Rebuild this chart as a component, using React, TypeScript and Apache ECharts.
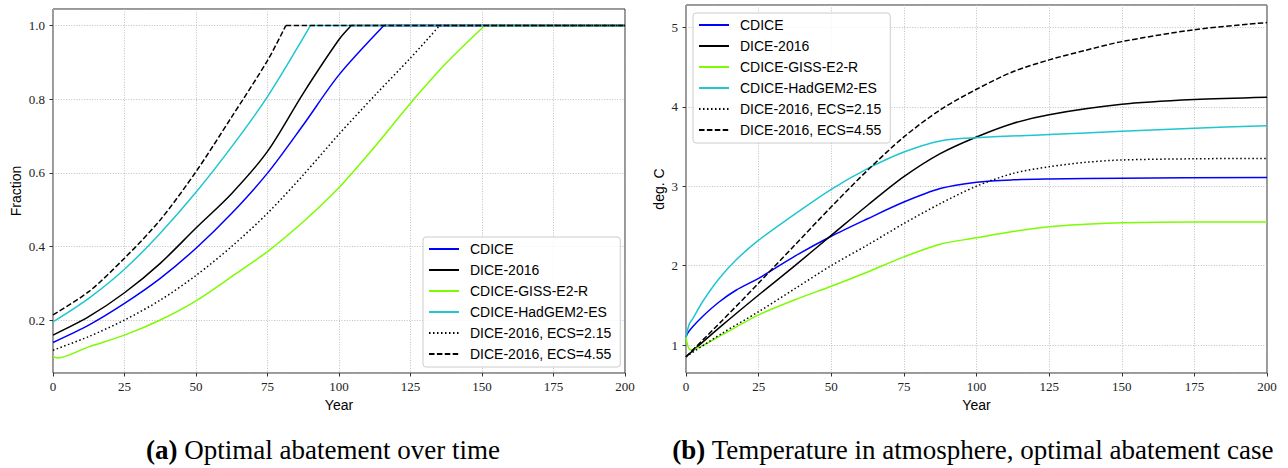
import React, { useEffect, useRef } from "react";
import * as echarts from "echarts";

// ---------- names & ticks ----------
const seriesNames = [
  "CDICE",
  "DICE-2016",
  "CDICE-GISS-E2-R",
  "CDICE-HadGEM2-ES",
  "DICE-2016, ECS=2.15",
  "DICE-2016, ECS=4.55",
];
const yearTicks = [0, 25, 50, 75, 100, 125, 150, 175, 200];

// ---------- (a) optimal abatement fraction: [year, fraction] ----------
const abateCDICE = [
  [0, 0.139], [12.5, 0.186], [25, 0.245], [37.5, 0.313], [50, 0.395], [62.5, 0.49],
  [75, 0.599], [87.5, 0.73], [100, 0.866], [115.7, 1.0], [200, 1.0],
];
const abateDICE = [
  [0, 0.159], [12.5, 0.209], [25, 0.274], [37.5, 0.354], [50, 0.45], [62.5, 0.544],
  [75, 0.658], [87.5, 0.816], [100, 0.962], [104.3, 1.0], [200, 1.0],
];
const abateGISS = [
  [0, 0.1], [1.5, 0.097], [12.5, 0.127], [25, 0.159], [37.5, 0.2], [50, 0.252],
  [62.5, 0.318], [75, 0.386], [87.5, 0.467], [100, 0.56], [112.5, 0.671], [125, 0.789],
  [137.5, 0.898], [151, 1.0], [200, 1.0],
];
const abateHadGEM = [
  [0, 0.195], [12.5, 0.259], [25, 0.338], [37.5, 0.436], [50, 0.547], [62.5, 0.671],
  [75, 0.807], [90, 1.0], [200, 1.0],
];
const abateECS215 = [
  [0, 0.118], [12.5, 0.155], [25, 0.2], [37.5, 0.254], [50, 0.321], [62.5, 0.4],
  [75, 0.49], [87.5, 0.594], [100, 0.705], [112.5, 0.81], [125, 0.912], [135.2, 1.0], [200, 1.0],
];
const abateECS455 = [
  [0, 0.214], [12.5, 0.277], [25, 0.368], [37.5, 0.472], [50, 0.603], [62.5, 0.752],
  [75, 0.905], [81.4, 1.0], [200, 1.0],
];

// ---------- (b) atmospheric temperature: [year, deg C] ----------
const tempCDICE = [
  [0, 1.1], [0.6, 1.15], [2.3, 1.23], [5.7, 1.36], [11.5, 1.545], [17.2, 1.69], [25, 1.84],
  [37.5, 2.12], [50, 2.37], [62.5, 2.59], [75, 2.8], [87.5, 2.97], [100, 3.05],
  [112.5, 3.08], [125, 3.09], [150, 3.1], [200, 3.11],
];
const tempDICE = [
  [0, 0.852], [12.5, 1.25], [25, 1.63], [37.5, 2.0], [50, 2.38], [62.5, 2.76], [75, 3.12],
  [87.5, 3.41], [100, 3.62], [112.5, 3.79], [125, 3.9], [150, 4.03], [175, 4.09], [200, 4.12],
];
const tempGISS = [
  [0, 1.1], [1.5, 0.94], [5, 0.98], [12.5, 1.13], [25, 1.38], [37.5, 1.57], [50, 1.74],
  [62.5, 1.92], [75, 2.11], [87.5, 2.27], [100, 2.35], [112.5, 2.43], [125, 2.49],
  [137.5, 2.52], [150, 2.54], [175, 2.55], [200, 2.55],
];
const tempHadGEM = [
  [0, 1.1], [0.6, 1.2], [1.2, 1.27], [2.3, 1.33], [5.7, 1.545], [11.5, 1.84], [17.2, 2.07],
  [25, 2.32], [34.4, 2.57], [50, 2.96], [62.5, 3.22], [75, 3.43], [87.5, 3.57], [100, 3.61],
  [125, 3.65], [150, 3.69], [175, 3.73], [200, 3.76],
];
const tempECS215 = [
  [0, 0.852], [12.5, 1.15], [25, 1.42], [37.5, 1.71], [50, 2.0], [62.5, 2.26], [75, 2.53],
  [87.5, 2.78], [100, 3.0], [112.5, 3.16], [125, 3.245], [137.5, 3.3], [150, 3.33],
  [175, 3.345], [200, 3.35],
];
const tempECS455 = [
  [0, 0.852], [12.5, 1.31], [25, 1.78], [37.5, 2.26], [50, 2.74], [62.5, 3.2], [75, 3.62],
  [87.5, 3.96], [100, 4.22], [112.5, 4.44], [125, 4.59], [137.5, 4.71], [150, 4.82],
  [175, 4.97], [200, 5.06],
];

const abateData = [abateCDICE, abateDICE, abateGISS, abateHadGEM, abateECS215, abateECS455];
const tempData = [tempCDICE, tempDICE, tempGISS, tempHadGEM, tempECS215, tempECS455];

// ---------- styles ----------
const lineColors = ["#0000ff", "#000000", "#7cfc00", "#1fc6cf", "#000000", "#000000"];
const lineTypes: any[] = ["solid", "solid", "solid", "solid", [1.5, 2.5], [5.5, 2.4]];

const SERIF = "'Liberation Serif', 'Times New Roman', serif";
const SANS = "'Liberation Sans', Arial, Helvetica, sans-serif";

function makeXAxis(gridIndex: number) {
  return {
    type: "value",
    gridIndex,
    min: 0,
    max: 200,
    interval: 25,
    name: "Year",
    nameLocation: "middle",
    nameGap: 24,
    nameTextStyle: { fontFamily: SANS, fontSize: 14, color: "#000" },
    axisLine: { show: false },
    axisTick: { show: true, length: 3.5, lineStyle: { color: "#333", width: 1 } },
    axisLabel: {
      fontFamily: SERIF,
      fontSize: 13,
      color: "#222",
      margin: 7,
      formatter: (v: number) => (yearTicks.includes(v) ? String(v) : ""),
    },
    splitLine: { show: true, lineStyle: { color: "#b0b0b0", width: 0.8, type: [1, 1.6] } },
  };
}

function makeYAxis(gridIndex: number, min: number, max: number, name: string, gap: number, dec: number) {
  return {
    type: "value",
    gridIndex,
    min,
    max,
    splitNumber: 5,
    name,
    nameLocation: "middle",
    nameGap: gap,
    nameTextStyle: { fontFamily: SANS, fontSize: 14, color: "#000" },
    axisLine: { show: false },
    axisTick: { show: true, length: 3.5, lineStyle: { color: "#333", width: 1 } },
    axisLabel: {
      fontFamily: SERIF,
      fontSize: 13,
      color: "#222",
      margin: 8,
      showMinLabel: false,
      showMaxLabel: false,
      formatter: (v: number) => v.toFixed(dec),
    },
    splitLine: { show: true, lineStyle: { color: "#b0b0b0", width: 0.8, type: [1, 1.6] } },
  };
}

function makeLegend(left: number, top: number) {
  return {
    orient: "vertical",
    left,
    top,
    itemWidth: 30,
    itemHeight: 14,
    itemGap: 7,
    padding: [5, 9, 6, 5],
    backgroundColor: "rgba(255,255,255,0.8)",
    borderColor: "#cccccc",
    borderWidth: 1,
    borderRadius: 3,
    selectedMode: false,
    itemStyle: { opacity: 0 },
    textStyle: { fontFamily: SANS, fontSize: 14, color: "#000", padding: [0, 0, 0, 6] },
    data: seriesNames,
  };
}

function lineSeries(name: string, i: number, axisIndex: number, data: number[][], smooth: number) {
  return {
    type: "line",
    name,
    xAxisIndex: axisIndex,
    yAxisIndex: axisIndex,
    data,
    symbol: "none",
    showSymbol: false,
    smooth,
    lineStyle: { color: lineColors[i], width: 1.5, type: lineTypes[i] },
    itemStyle: { color: lineColors[i] },
    z: 2 + i,
  };
}

// (a): the rising part is smoothed, the saturated part (fraction = 1) is drawn straight
function makeAbateSeries() {
  const out: any[] = [];
  abateData.forEach((d, i) => {
    const k = d.findIndex((p) => p[1] >= 1);
    out.push(lineSeries(seriesNames[i], i, 0, d.slice(0, k + 1), 0.3));
    out.push(lineSeries(seriesNames[i], i, 0, d.slice(k), 0));
  });
  return out;
}

function makeTempSeries() {
  return tempData.map((d, i) => lineSeries(seriesNames[i], i, 1, d, 0.3));
}

export default function App() {
  const ref = useRef<HTMLDivElement>(null);
  useEffect(() => {
    if (!ref.current) return;
    const chart = echarts.init(ref.current, null, { renderer: "svg" });
    const gridCommon = {
      show: true,
      borderColor: "#333",
      borderWidth: 1,
      backgroundColor: "transparent",
      containLabel: false,
    };
    chart.setOption({
      animation: false,
      backgroundColor: "#ffffff",
      grid: [
        { ...gridCommon, left: 53, top: 9, width: 572, height: 364 },
        { ...gridCommon, left: 686, top: 5, width: 581, height: 368 },
      ],
      xAxis: [makeXAxis(0), makeXAxis(1)],
      yAxis: [
        makeYAxis(0, 0.056, 1.045, "Fraction", 30, 1),
        makeYAxis(1, 0.648, 5.281, "deg. C", 20, 0),
      ],
      legend: [makeLegend(423, 237), makeLegend(693, 13)],
      series: [...makeAbateSeries(), ...makeTempSeries()],
      graphic: [
        {
          type: "text",
          x: 323,
          y: 450,
          style: {
            text: "{b|(a)} Optimal abatement over time",
            fontFamily: SERIF,
            fontSize: 27,
            fill: "#000",
            align: "center",
            verticalAlign: "middle",
            rich: { b: { fontFamily: SERIF, fontSize: 27, fontWeight: "bold", fill: "#000" } },
          },
        },
        {
          type: "text",
          x: 973,
          y: 450,
          style: {
            text: "{b|(b)} Temperature in atmosphere, optimal abatement case",
            fontFamily: SERIF,
            fontSize: 27,
            fill: "#000",
            align: "center",
            verticalAlign: "middle",
            rich: { b: { fontFamily: SERIF, fontSize: 27, fontWeight: "bold", fill: "#000" } },
          },
        },
      ],
    });
    return () => chart.dispose();
  }, []);
  return (
    <div
      ref={ref}
      style={{ position: "fixed", left: 0, top: 0, width: 1288, height: 468, background: "#fff" }}
    />
  );
}
